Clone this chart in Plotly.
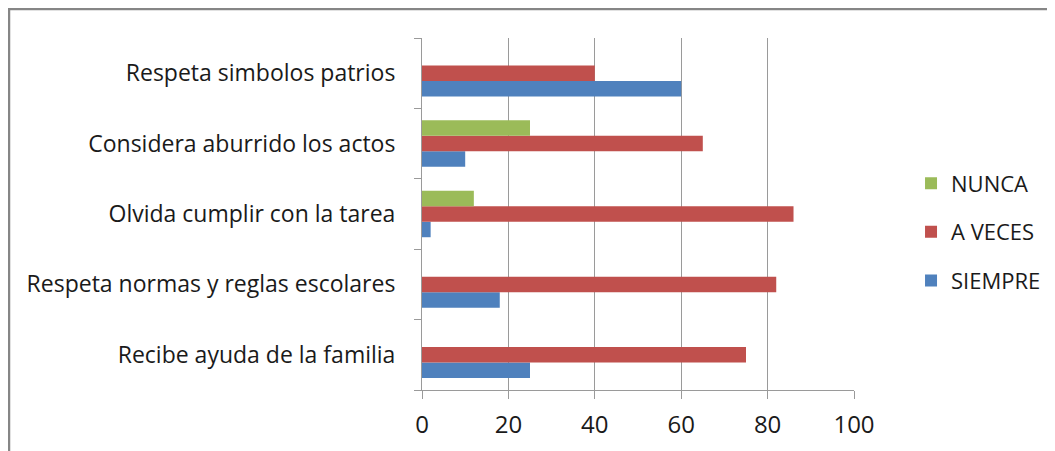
import plotly.graph_objects as go

categories = ["Recibe ayuda de la familia", "Respeta normas y reglas escolares",
              "Olvida cumplir con la tarea", "Considera aburrido los actos",
              "Respeta simbolos patrios"]
siempre = [25, 18, 2, 10, 60]
a_veces = [75, 82, 86, 65, 40]
nunca = [0, 0, 12, 25, 0]
x_ticks = [0, 20, 40, 60, 80, 100]

series = [("SIEMPRE", siempre, "#4F81BD", 3), ("A VECES", a_veces, "#C0504D", 2), ("NUNCA", nunca, "#9BBB59", 1)]

fig = go.Figure()
for name, vals, col, rank in series:
    fig.add_trace(go.Bar(y=categories, x=vals, name=name, orientation="h",
                         marker=dict(color=col, line=dict(width=0)), legendgroup=name,
                         legendrank=rank))

# page has 8px body margin: work in figure coordinates
L, R, T, B = 414, 846, 30, 382
W, H = 1047, 443
font = "Open Sans, sans-serif"
fig.update_layout(
    width=W, height=H,
    margin=dict(l=L, r=W - R, t=T, b=H - B, autoexpand=False),
    barmode="group", bargap=0.34, bargroupgap=0,
    plot_bgcolor="white", paper_bgcolor="white",
    font=dict(family=font, color="#1a1a1a", size=23),
    legend=dict(traceorder="grouped", x=1.132, y=0.449, xanchor="left", yanchor="middle",
                font=dict(size=22, family=font), tracegroupgap=17, itemwidth=30),
    showlegend=True,
)
fig.update_xaxes(range=[0, 100], tickvals=x_ticks, showgrid=True, gridcolor="#9a9a9a", gridwidth=1,
                 showline=True, linecolor="#9a9a9a", linewidth=1, ticks="outside", ticklen=8,
                 tickcolor="#9a9a9a", zeroline=False, tickfont=dict(size=24), ticklabelstandoff=5,
                 fixedrange=True)
fig.update_yaxes(showline=True, linecolor="#9a9a9a", linewidth=1, ticks="outside", ticklen=7,
                 tickcolor="#9a9a9a", tickson="boundaries", showgrid=False,
                 tickfont=dict(size=23), ticklabelstandoff=21, fixedrange=True)

fig.add_shape(type="rect", xref="paper", yref="paper",
              x0=(1 - L) / (R - L), x1=(1075 - L) / (R - L),
              y0=(B - 470) / (B - T), y1=(B - 1) / (B - T),
              line=dict(color="#868686", width=2.5), fillcolor="rgba(0,0,0,0)", layer="below")

fig.write_html("out.html")
